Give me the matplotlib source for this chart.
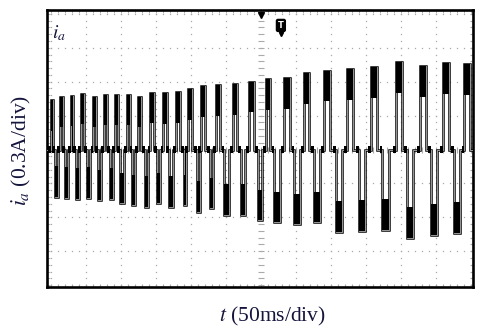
import numpy as np
import matplotlib
matplotlib.use('Agg')
import matplotlib.pyplot as plt

# Oscilloscope trace of phase current i_a in divisions
# (x: 12 div of 50 ms, y: 8 div of 0.3 A, centre line = 0)
pos_t = [0.03, 0.29, 0.60, 0.91, 1.25, 1.55, 1.87, 2.22, 2.53, 2.89, 3.26, 3.62, 3.97, 4.35,
         4.78, 5.26, 5.73, 6.20, 6.74, 7.31, 7.89, 8.55, 9.23, 9.94, 10.63, 11.29, 11.89]
pos_peak = [1.46, 1.56, 1.58, 1.64, 1.56, 1.61, 1.61, 1.61, 1.56, 1.67, 1.66, 1.69, 1.78, 1.87,
            1.90, 1.93, 2.00, 2.07, 2.10, 2.25, 2.32, 2.37, 2.43, 2.58, 2.46, 2.55, 2.51]
neg_t = [0.15, 0.44, 0.75, 1.08, 1.39, 1.72, 2.03, 2.37, 2.72, 3.07, 3.43, 3.83, 4.21, 4.59,
         5.02, 5.49, 5.97, 6.46, 7.03, 7.60, 8.22, 8.89, 9.57, 10.26, 10.94, 11.60]
neg_peak = [-1.39, -1.43, -1.46, -1.43, -1.49, -1.46, -1.58, -1.64, -1.69, -1.58, -1.69, -1.64, -1.83,
            -1.73, -1.93, -1.93, -2.08, -2.14, -2.20, -2.14, -2.42, -2.40, -2.37, -2.61, -2.52, -2.46]
ripple = 0.9  # depth of the PWM ripple band on each plateau (div)

plt.rcParams['mathtext.fontset'] = 'stix'
plt.rcParams['font.family'] = 'Liberation Serif'

fig = plt.figure(figsize=(4.8, 3.28), dpi=100)
ax = fig.add_axes([47/480, 1-287/328, 426/480, 277/328])
ax.set_xlim(-0.114, 12.06)
ax.set_ylim(-4.056, 4.115)

# dotted graticule
grid_col = '#aaaaaa'
dots = np.arange(-4, 4.001, 0.2)
for gx in range(0, 13):
    if gx == 6:
        continue
    ax.plot(np.full(len(dots), gx), dots, ls='none', marker='s', ms=0.9, mew=0, color=grid_col, zorder=1)
dots = np.arange(0, 12.001, 0.2)
for gy in range(-4, 5):
    if gy == 0:
        continue
    ax.plot(dots, np.full(len(dots), gy), ls='none', marker='s', ms=0.9, mew=0, color=grid_col, zorder=1)
# centre cross with small ticks
cy = np.arange(-4, 4.001, 0.2)
ax.plot(np.full(len(cy), 6), cy, ls='none', marker='_', ms=4, mew=0.8, color=grid_col, zorder=1)
cx = np.arange(0, 12.001, 0.2)
ax.plot(cx, np.zeros(len(cx)), ls='none', marker='|', ms=4, mew=0.8, color=grid_col, zorder=1)

# build the trace from the pulse list
pulses = sorted([(t, a) for t, a in zip(pos_t, pos_peak)] + [(t, a) for t, a in zip(neg_t, neg_peak)])
centres = np.array([p[0] for p in pulses])
gaps = np.diff(centres)
gaps = np.append(gaps, gaps[-1])
xs, ys = [-0.4], [0.0]
for (c, a), g in zip(pulses, gaps):
    h = g / 3.8
    xs += [c - h, c - h, c + h, c + h]
    ys += [0, a, a, 0]
    s = np.sign(a)
    # ripple band on the plateau
    ax.fill_between([c - h, c + h], a - s * ripple, a, color='black', lw=0, zorder=5)
    # small ripple blob on the zero level before the edge
    ax.fill_between([c - h - 0.08, c - h], -0.09, 0.1, color='black', lw=0, zorder=5)
xs.append(12.4)
ys.append(0.0)

ax.plot(xs, ys, color='black', lw=1.8, zorder=3, solid_joinstyle='miter')
ax.plot(xs, ys, color='#9a9a9a', lw=0.7, zorder=4)

# trigger markers
ax.plot(6, 3.96, marker='v', ms=5, color='black', zorder=6, clip_on=False)
ax.text(6.57, 3.66, 'T', color='white', fontsize=6, fontweight='bold', ha='center', va='center',
        family='DejaVu Sans', zorder=7,
        bbox=dict(boxstyle='round,pad=0.18', fc='black', ec='black'))
ax.plot(6.57, 3.40, marker='v', ms=3, color='black', zorder=6)

ax.text(0.03, 3.44, '$i_a$', fontsize=14, color='#14143c', ha='left', va='center', zorder=7)

# frame and ticks
for sp in ax.spines.values():
    sp.set_linewidth(1.9)
ax.set_xticks([])
ax.set_yticks([])
ax.set_xticks(np.arange(0, 12.001, 0.2), minor=True)
ax.set_yticks(np.arange(-4, 4.001, 0.2), minor=True)
ax.tick_params(which='minor', direction='in', length=2.5, width=0.6, color=grid_col,
               top=True, right=True, labelbottom=False, labelleft=False)

fig.text(272/480, 1-316/328, '$t$ (50ms/div)', fontsize=15.5, color='#14143c', ha='center', va='center')
fig.text(21/480, 1-150/328, '$i_a$ (0.3A/div)', fontsize=15.5, color='#14143c', ha='center', va='center',
         rotation=90)

fig.savefig('out.png', dpi=100)
